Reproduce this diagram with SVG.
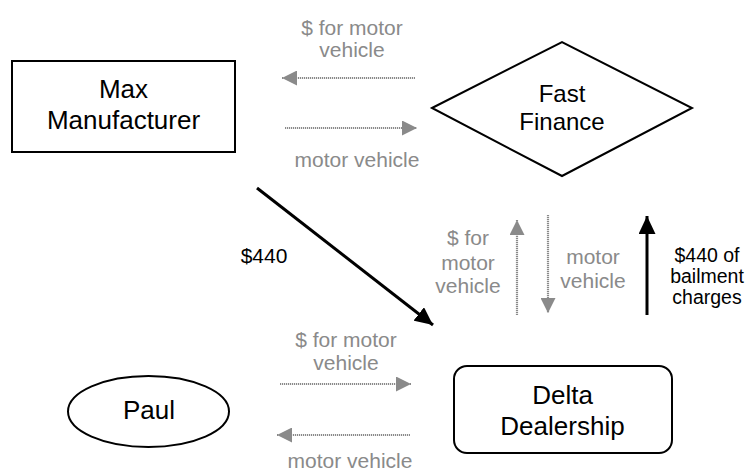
<svg xmlns="http://www.w3.org/2000/svg" width="750" height="471" viewBox="0 0 750 471">
<style>
.node{fill:#fff;stroke:#000;stroke-width:2}
.nt{font-family:"Liberation Sans",Arial,sans-serif;font-size:26px;fill:#000;text-anchor:middle}
.gt{font-family:"Liberation Sans",Arial,sans-serif;font-size:21px;fill:#8a8a8a;text-anchor:middle}
.bt{font-family:"Liberation Sans",Arial,sans-serif;font-size:21px;fill:#000;text-anchor:middle}
.bs{font-family:"Liberation Sans",Arial,sans-serif;font-size:19.5px;fill:#000;text-anchor:middle}
.ga{stroke:#8a8a8a;stroke-width:2.2;stroke-dasharray:1.2 0.8;fill:none;marker-end:url(#gh)}
.ba{stroke:#000;stroke-width:3;fill:none;marker-end:url(#bh)}
</style>
<defs>
<marker id="gh" viewBox="0 0 15 15" refX="15" refY="7.5" markerWidth="15" markerHeight="15" markerUnits="userSpaceOnUse" orient="auto">
<path d="M0,0 L15,7.5 L0,15 z" fill="#8a8a8a"/>
</marker>
<marker id="bh" viewBox="0 0 18 17" refX="18" refY="8.5" markerWidth="18" markerHeight="17" markerUnits="userSpaceOnUse" orient="auto">
<path d="M0,0 L18,8.5 L0,17 z" fill="#000"/>
</marker>
</defs>
<rect width="750" height="471" fill="#fff"/>
<g id="connectors">
<line class="ga" x1="415" y1="78" x2="282" y2="78"/>
<line class="ga" x1="285" y1="128" x2="417" y2="128"/>
<line class="ga" x1="280" y1="384" x2="411" y2="384"/>
<line class="ga" x1="410" y1="435" x2="277" y2="435"/>
<line class="ga" x1="517" y1="315" x2="517" y2="220"/>
<line class="ga" x1="548" y1="215" x2="548" y2="313"/>
<line class="ba" x1="647" y1="315" x2="647" y2="216"/>
<line class="ba" x1="257" y1="188" x2="433" y2="325"/>
<text class="gt" x="352" y="35">$ for motor</text>
<text class="gt" x="352" y="57">vehicle</text>
<text class="gt" x="357" y="167">motor vehicle</text>
<text class="bt" x="264" y="263">$440</text>
<text class="gt" x="468" y="245">$ for</text>
<text class="gt" x="468" y="270">motor</text>
<text class="gt" x="468" y="293">vehicle</text>
<text class="gt" x="593" y="264">motor</text>
<text class="gt" x="593" y="288">vehicle</text>
<text class="bs" x="707" y="262">$440 of</text>
<text class="bs" x="707" y="283">bailment</text>
<text class="bs" x="707" y="304">charges</text>
<text class="gt" x="346" y="347">$ for motor</text>
<text class="gt" x="346" y="370">vehicle</text>
<text class="gt" x="350" y="468">motor vehicle</text>
</g>
<g id="max-manufacturer">
<rect class="node" x="12" y="61" width="223" height="91"/>
<text class="nt" x="123.5" y="98">Max</text>
<text class="nt" x="123.5" y="129">Manufacturer</text>
</g>
<g id="fast-finance">
<polygon class="node" points="432,108 562,42 692,108 562,176"/>
<text class="nt" x="562" y="102" style="font-size:24px">Fast</text>
<text class="nt" x="562" y="130" style="font-size:24px">Finance</text>
</g>
<g id="paul">
<ellipse class="node" cx="148.5" cy="411.5" rx="80.5" ry="35.5"/>
<text class="nt" x="149" y="419">Paul</text>
</g>
<g id="delta-dealership">
<rect class="node" x="454" y="366" width="218" height="87" rx="13" ry="13"/>
<text class="nt" x="562.5" y="404">Delta</text>
<text class="nt" x="562.5" y="435">Dealership</text>
</g>
</svg>
